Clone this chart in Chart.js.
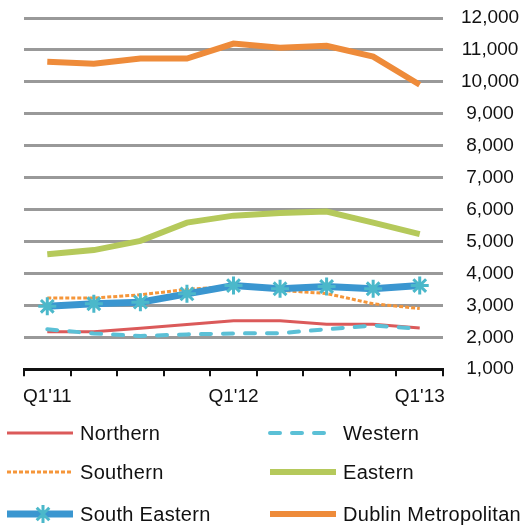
<!DOCTYPE html>
<html>
<head>
<meta charset="utf-8">
<script src="https://cdn.jsdelivr.net/npm/chart.js@4"></script>
<style>
  html, body { margin: 0; padding: 0; background: #fff; }
  #contenedor { width: 522px; height: 530px; }
</style>
</head>
<body>
<div id="contenedor"><canvas id="grafico"></canvas></div>
<script>
// Datos
const trimestres = ["Q1'11", "Q2'11", "Q3'11", "Q4'11", "Q1'12", "Q2'12", "Q3'12", "Q4'12", "Q1'13"];
const etiquetasVisibles = ["Q1'11", "Q1'12", "Q1'13"];
const northern = [2170, 2170, 2280, 2400, 2520, 2520, 2410, 2410, 2290];
const western = [2250, 2120, 2040, 2090, 2120, 2130, 2250, 2370, 2270];
const southern = [3230, 3230, 3330, 3500, 3600, 3470, 3370, 3050, 2900];
const eastern = [4600, 4730, 5020, 5590, 5810, 5890, 5940, 5590, 5230];
const southEastern = [2970, 3050, 3100, 3360, 3620, 3520, 3590, 3520, 3620];
const dublin = [10630, 10570, 10730, 10730, 11200, 11070, 11130, 10790, 9910];

const fuente = '"Liberation Sans", Arial, sans-serif';

// Leyenda en dos columnas dibujada a mano
const leyendaPlugin = {
  id: 'leyendaPlugin',
  afterDraw(chart) {
    const ctx = chart.ctx;
    const filas = [433, 472, 514];
    const columnas = [7, 270];
    chart.data.datasets.forEach((ds, i) => {
      const x = columnas[i % 2];
      const y = filas[Math.floor(i / 2)];
      ctx.save();
      ctx.strokeStyle = ds.borderColor;
      ctx.lineWidth = ds.borderWidth;
      ctx.setLineDash(ds.borderDash || []);
      ctx.lineCap = ds.borderCapStyle || 'butt';
      ctx.beginPath();
      ctx.moveTo(x, y);
      ctx.lineTo(x + 66, y);
      ctx.stroke();
      if (ds.pointRadius) {
        // marcador estrella
        const r = ds.pointRadius;
        const cx = x + 36;
        ctx.setLineDash([]);
        ctx.strokeStyle = ds.pointBorderColor;
        ctx.lineWidth = ds.pointBorderWidth;
        ctx.beginPath();
        ctx.moveTo(cx, y - r); ctx.lineTo(cx, y + r);
        ctx.moveTo(cx - r * 0.7, y - r * 0.7); ctx.lineTo(cx + r * 0.7, y + r * 0.7);
        ctx.moveTo(cx + r * 0.7, y - r * 0.7); ctx.lineTo(cx - r * 0.7, y + r * 0.7);
        ctx.stroke();
      }
      ctx.fillStyle = '#111';
      ctx.font = '20px ' + fuente;
      ctx.letterSpacing = '0.3px';
      ctx.textBaseline = 'middle';
      ctx.fillText(ds.label, x + 73, y + 1);
      ctx.restore();
    });
  }
};

const ctx = document.getElementById('grafico').getContext('2d');
const grafico = new Chart(ctx, {
  type: 'line',
  data: {
    labels: trimestres,
    datasets: [
      {
        label: 'Northern',
        data: northern,
        borderColor: '#DB5A5A',
        borderWidth: 3,
        pointRadius: 0,
        order: 3,
      },
      {
        label: 'Western',
        data: western,
        borderColor: '#5BC0D6',
        borderWidth: 4,
        borderDash: [10, 12],
        borderCapStyle: 'round',
        pointRadius: 0,
        order: 2,
      },
      {
        label: 'Southern',
        data: southern,
        borderColor: '#F5963A',
        borderWidth: 3,
        borderDash: [4, 2],
        pointRadius: 0,
        order: 4,
      },
      {
        label: 'Eastern',
        data: eastern,
        borderColor: '#B5C95B',
        borderWidth: 6,
        pointRadius: 0,
        order: 5,
      },
      {
        label: 'South Eastern',
        data: southEastern,
        borderColor: '#3A96D0',
        borderWidth: 7,
        pointStyle: 'star',
        pointRadius: 9,
        pointBorderWidth: 3,
        pointBorderColor: '#4BB8CA',
        pointBackgroundColor: '#4BB8CA',
        order: 1,
      },
      {
        label: 'Dublin Metropolitan',
        data: dublin,
        borderColor: '#EE8B3A',
        borderWidth: 6,
        pointRadius: 0,
        order: 6,
      },
    ],
  },
  options: {
    responsive: true,
    maintainAspectRatio: false,
    animation: false,
    layout: {
      padding: { left: 24, right: 0, top: 18, bottom: 113 },
    },
    elements: {
      line: { tension: 0 },
    },
    plugins: {
      legend: { display: false },
      tooltip: { enabled: false },
    },
    scales: {
      x: {
        offset: true,
        grid: {
          offset: true,
          drawOnChartArea: false,
          drawTicks: true,
          tickLength: 7,
          color: '#111',
          lineWidth: 2,
        },
        border: { display: true, color: '#111', width: 3 },
        ticks: {
          autoSkip: false,
          maxRotation: 0,
          padding: 9,
          color: '#111',
          font: { family: fuente, size: 19 },
          callback: function (valor, indice) {
            const etiqueta = this.getLabelForValue(valor);
            return etiquetasVisibles.includes(etiqueta) ? etiqueta : '';
          },
        },
      },
      y: {
        position: 'right',
        min: 1000,
        max: 12000,
        afterFit: (escala) => {
          escala.width = 79;
          escala.paddingTop = 0;
          escala.paddingBottom = 0;
        },
        grid: {
          color: '#999',
          lineWidth: 3,
          drawTicks: false,
        },
        border: { display: false },
        ticks: {
          stepSize: 1000,
          padding: 18,
          crossAlign: 'center',
          color: '#111',
          font: { family: fuente, size: 19 },
          callback: (valor) => valor.toLocaleString('en-US'),
        },
      },
    },
  },
  plugins: [leyendaPlugin],
});
</script>
</body>
</html>
